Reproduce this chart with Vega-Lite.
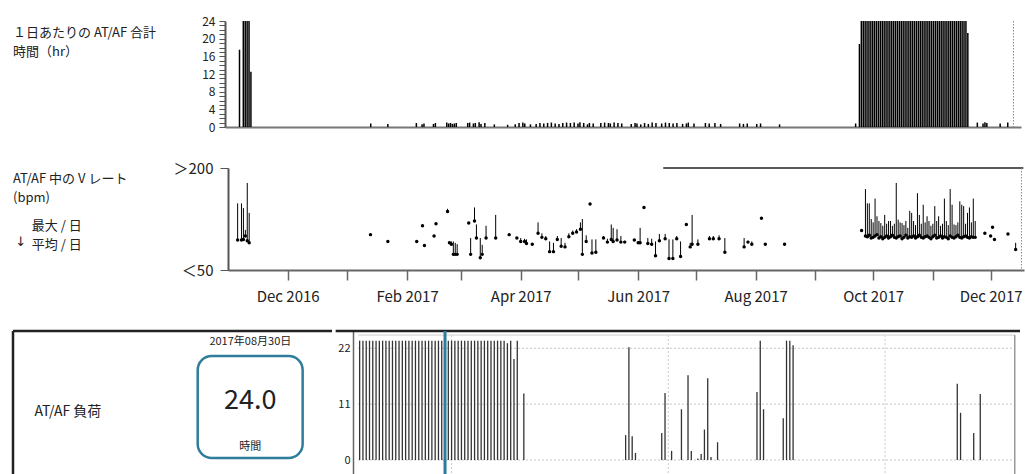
{
  "$schema": "https://vega.github.io/schema/vega-lite/v6.json",
  "background": "white",
  "padding": {"left": 11, "top": 15, "right": 0, "bottom": 0},
  "config": {
    "font": "Noto Sans CJK JP",
    "view": {"stroke": null},
    "axis": {"labelColor": "#222", "titleColor": "#222", "titleFontWeight": "normal", "grid": false, "labelFont": "Noto Sans CJK JP", "titleFont": "Noto Sans CJK JP"},
    "text": {"font": "Noto Sans CJK JP", "color": "#222"}
  },
  "datasets": {
    "days": [
      {"d":"2016-11-05","hr":17.5,"avg":94,"max":148},
      {"d":"2016-11-07","hr":24,"avg":94,"max":148},
      {"d":"2016-11-08","hr":24,"avg":95,"max":141},
      {"d":"2016-11-09","hr":24,"avg":100,"max":109},
      {"d":"2016-11-10","hr":24,"avg":93,"max":178},
      {"d":"2016-11-11","hr":12.5,"avg":90,"max":134},
      {"d":"2017-01-13","hr":0.8,"avg":102,"max":102},
      {"d":"2017-01-22","hr":0.7,"avg":92,"max":92},
      {"d":"2017-02-06","hr":0.9,"avg":92,"max":92},
      {"d":"2017-02-09","hr":0.6,"avg":115,"max":115},
      {"d":"2017-02-10","hr":0.8,"avg":86,"max":86},
      {"d":"2017-02-15","hr":0.7,"avg":100,"max":100},
      {"d":"2017-02-16","hr":0.9,"avg":118,"max":118},
      {"d":"2017-02-22","hr":1.0,"avg":136,"max":140},
      {"d":"2017-02-23","hr":0.8,"avg":90,"max":92},
      {"d":"2017-02-24","hr":0.9,"avg":88,"max":92},
      {"d":"2017-02-25","hr":0.7,"avg":73,"max":92},
      {"d":"2017-02-26","hr":0.8,"avg":73,"max":90},
      {"d":"2017-02-27","hr":0.9,"avg":73,"max":88},
      {"d":"2017-03-05","hr":0.9,"avg":119,"max":119},
      {"d":"2017-03-06","hr":1.0,"avg":73,"max":97},
      {"d":"2017-03-08","hr":0.8,"avg":122,"max":142},
      {"d":"2017-03-09","hr":0.9,"avg":97,"max":117},
      {"d":"2017-03-11","hr":1.1,"avg":68,"max":97},
      {"d":"2017-03-12","hr":0.7,"avg":73,"max":87},
      {"d":"2017-03-14","hr":0.9,"avg":97,"max":115},
      {"d":"2017-03-19","hr":0.6,"avg":97,"max":131},
      {"d":"2017-03-26","hr":0.5,"avg":102,"max":102},
      {"d":"2017-03-30","hr":0.6,"avg":97,"max":97},
      {"d":"2017-04-01","hr":0.9,"avg":92,"max":97},
      {"d":"2017-04-03","hr":1.0,"avg":92,"max":96},
      {"d":"2017-04-04","hr":0.8,"avg":89,"max":95},
      {"d":"2017-04-07","hr":0.6,"avg":88,"max":88},
      {"d":"2017-04-10","hr":0.7,"avg":104,"max":120},
      {"d":"2017-04-12","hr":0.9,"avg":98,"max":104},
      {"d":"2017-04-14","hr":0.8,"avg":96,"max":100},
      {"d":"2017-04-16","hr":0.9,"avg":77,"max":92},
      {"d":"2017-04-18","hr":1.0,"avg":77,"max":90},
      {"d":"2017-04-20","hr":0.8,"avg":95,"max":100},
      {"d":"2017-04-22","hr":0.7,"avg":85,"max":97},
      {"d":"2017-04-24","hr":0.9,"avg":84,"max":90},
      {"d":"2017-04-26","hr":1.0,"avg":99,"max":104},
      {"d":"2017-04-28","hr":0.9,"avg":104,"max":108},
      {"d":"2017-04-30","hr":1.0,"avg":106,"max":110},
      {"d":"2017-05-02","hr":0.8,"avg":110,"max":120},
      {"d":"2017-05-03","hr":1.1,"avg":73,"max":125},
      {"d":"2017-05-05","hr":0.9,"avg":92,"max":101},
      {"d":"2017-05-07","hr":0.6,"avg":147,"max":147},
      {"d":"2017-05-08","hr":0.9,"avg":75,"max":95},
      {"d":"2017-05-10","hr":0.8,"avg":76,"max":95},
      {"d":"2017-05-14","hr":0.9,"avg":97,"max":100},
      {"d":"2017-05-16","hr":1.0,"avg":91,"max":96},
      {"d":"2017-05-18","hr":0.9,"avg":95,"max":117},
      {"d":"2017-05-19","hr":0.8,"avg":92,"max":112},
      {"d":"2017-05-21","hr":1.0,"avg":94,"max":110},
      {"d":"2017-05-23","hr":0.9,"avg":91,"max":100},
      {"d":"2017-05-25","hr":0.8,"avg":91,"max":93},
      {"d":"2017-05-30","hr":0.7,"avg":94,"max":95},
      {"d":"2017-06-01","hr":0.9,"avg":90,"max":92},
      {"d":"2017-06-02","hr":0.8,"avg":90,"max":112},
      {"d":"2017-06-04","hr":0.6,"avg":142,"max":142},
      {"d":"2017-06-06","hr":0.9,"avg":89,"max":97},
      {"d":"2017-06-08","hr":0.7,"avg":88,"max":96},
      {"d":"2017-06-10","hr":1.0,"avg":71,"max":92},
      {"d":"2017-06-12","hr":0.9,"avg":93,"max":103},
      {"d":"2017-06-15","hr":0.8,"avg":96,"max":103},
      {"d":"2017-06-17","hr":1.0,"avg":67,"max":95},
      {"d":"2017-06-19","hr":0.9,"avg":67,"max":95},
      {"d":"2017-06-21","hr":0.8,"avg":96,"max":100},
      {"d":"2017-06-23","hr":0.9,"avg":70,"max":92},
      {"d":"2017-06-26","hr":0.7,"avg":117,"max":117},
      {"d":"2017-06-28","hr":0.8,"avg":84,"max":90},
      {"d":"2017-06-29","hr":1.0,"avg":88,"max":131},
      {"d":"2017-07-02","hr":0.8,"avg":88,"max":95},
      {"d":"2017-07-08","hr":0.9,"avg":96,"max":100},
      {"d":"2017-07-10","hr":0.8,"avg":96,"max":100},
      {"d":"2017-07-13","hr":0.9,"avg":96,"max":101},
      {"d":"2017-07-16","hr":0.7,"avg":76,"max":97},
      {"d":"2017-07-26","hr":0.8,"avg":84,"max":97},
      {"d":"2017-07-28","hr":0.7,"avg":91,"max":93},
      {"d":"2017-07-30","hr":0.8,"avg":88,"max":92},
      {"d":"2017-08-04","hr":0.7,"avg":126,"max":126},
      {"d":"2017-08-06","hr":0.8,"avg":88,"max":88},
      {"d":"2017-08-16","hr":0.6,"avg":88,"max":88},
      {"d":"2017-09-25","hr":0.8,"avg":108,"max":108},
      {"d":"2017-09-27","hr":18.8,"avg":100,"max":169},
      {"d":"2017-09-28","hr":24,"avg":99,"max":148},
      {"d":"2017-09-29","hr":24,"avg":101,"max":148},
      {"d":"2017-09-30","hr":24,"avg":97,"max":125},
      {"d":"2017-10-01","hr":24,"avg":98,"max":120},
      {"d":"2017-10-02","hr":24,"avg":100,"max":155},
      {"d":"2017-10-03","hr":24,"avg":102,"max":129},
      {"d":"2017-10-04","hr":24,"avg":97,"max":122},
      {"d":"2017-10-05","hr":24,"avg":99,"max":119},
      {"d":"2017-10-06","hr":24,"avg":96,"max":115},
      {"d":"2017-10-07","hr":24,"avg":98,"max":131},
      {"d":"2017-10-08","hr":24,"avg":100,"max":118},
      {"d":"2017-10-09","hr":24,"avg":97,"max":122},
      {"d":"2017-10-10","hr":24,"avg":99,"max":122},
      {"d":"2017-10-11","hr":24,"avg":101,"max":115},
      {"d":"2017-10-12","hr":24,"avg":98,"max":118},
      {"d":"2017-10-13","hr":24,"avg":97,"max":178},
      {"d":"2017-10-14","hr":24,"avg":99,"max":124},
      {"d":"2017-10-15","hr":24,"avg":100,"max":120},
      {"d":"2017-10-16","hr":24,"avg":96,"max":119},
      {"d":"2017-10-17","hr":24,"avg":98,"max":116},
      {"d":"2017-10-18","hr":24,"avg":101,"max":122},
      {"d":"2017-10-19","hr":24,"avg":97,"max":112},
      {"d":"2017-10-20","hr":24,"avg":99,"max":137},
      {"d":"2017-10-21","hr":24,"avg":98,"max":134},
      {"d":"2017-10-22","hr":24,"avg":100,"max":122},
      {"d":"2017-10-23","hr":24,"avg":97,"max":116},
      {"d":"2017-10-24","hr":24,"avg":99,"max":163},
      {"d":"2017-10-25","hr":24,"avg":101,"max":131},
      {"d":"2017-10-26","hr":24,"avg":98,"max":118},
      {"d":"2017-10-27","hr":24,"avg":97,"max":146},
      {"d":"2017-10-28","hr":24,"avg":99,"max":120},
      {"d":"2017-10-29","hr":24,"avg":100,"max":129},
      {"d":"2017-10-30","hr":24,"avg":98,"max":122},
      {"d":"2017-10-31","hr":24,"avg":96,"max":115},
      {"d":"2017-11-01","hr":24,"avg":99,"max":118},
      {"d":"2017-11-02","hr":24,"avg":101,"max":144},
      {"d":"2017-11-03","hr":24,"avg":97,"max":122},
      {"d":"2017-11-04","hr":24,"avg":98,"max":129},
      {"d":"2017-11-05","hr":24,"avg":100,"max":115},
      {"d":"2017-11-06","hr":24,"avg":97,"max":118},
      {"d":"2017-11-07","hr":24,"avg":99,"max":155},
      {"d":"2017-11-08","hr":24,"avg":98,"max":122},
      {"d":"2017-11-09","hr":24,"avg":96,"max":116},
      {"d":"2017-11-10","hr":24,"avg":100,"max":169},
      {"d":"2017-11-11","hr":24,"avg":98,"max":146},
      {"d":"2017-11-12","hr":24,"avg":97,"max":117},
      {"d":"2017-11-13","hr":24,"avg":99,"max":116},
      {"d":"2017-11-14","hr":24,"avg":101,"max":120},
      {"d":"2017-11-15","hr":24,"avg":98,"max":151},
      {"d":"2017-11-16","hr":24,"avg":97,"max":146},
      {"d":"2017-11-17","hr":24,"avg":99,"max":144},
      {"d":"2017-11-18","hr":24,"avg":100,"max":118},
      {"d":"2017-11-19","hr":24,"avg":98,"max":134},
      {"d":"2017-11-20","hr":24,"avg":97,"max":142},
      {"d":"2017-11-21","hr":24,"avg":99,"max":120},
      {"d":"2017-11-22","hr":24,"avg":98,"max":155},
      {"d":"2017-11-23","hr":21.3,"avg":98,"max":122},
      {"d":"2017-11-28","hr":1.0,"avg":104,"max":104},
      {"d":"2017-12-01","hr":0.8,"avg":100,"max":100},
      {"d":"2017-12-02","hr":1.1,"avg":113,"max":113},
      {"d":"2017-12-03","hr":0.9,"avg":95,"max":95},
      {"d":"2017-12-10","hr":0.8,"avg":103,"max":103},
      {"d":"2017-12-14","hr":1.0,"avg":80,"max":90}
    ],
    "marker": [{"d": "2017-12-17"}],
    "topline": [{"s": "2017-06-14", "e": "2017-12-18"}],
    "hlabel": [{"l1": "１日あたりの AT/AF 合計", "l2": "時間（hr）"}],
    "vlegend": [{"l1": "AT/AF 中の V レート", "l2": "(bpm)", "maxLabel": "最大 / 日", "avgLabel": "平均 / 日", "arrow": "↓"}],
    "burden": [
      {"i":0,"h":23.5},{"i":1,"h":23.5},{"i":2,"h":23.5},{"i":3,"h":23.5},{"i":4,"h":23.5},
      {"i":5,"h":23.5},{"i":6,"h":23.5},{"i":7,"h":23.5},{"i":8,"h":23.5},{"i":9,"h":23.5},
      {"i":10,"h":23.5},{"i":11,"h":23.5},{"i":12,"h":23.5},{"i":13,"h":23.5},{"i":14,"h":23.5},
      {"i":15,"h":23.5},{"i":16,"h":23.5},{"i":17,"h":23.5},{"i":18,"h":23.5},{"i":19,"h":23.5},
      {"i":20,"h":23.5},{"i":21,"h":23.5},{"i":22,"h":23.5},{"i":23,"h":23.5},{"i":24,"h":23.5},
      {"i":25,"h":23.5},{"i":26,"h":23.5},{"i":27,"h":23.5},{"i":28,"h":23.5},{"i":29,"h":23.5},
      {"i":30,"h":23.5},{"i":31,"h":23.5},{"i":32,"h":23.5},{"i":33,"h":23.5},{"i":34,"h":23.5},
      {"i":35,"h":23.5},{"i":36,"h":23.5},{"i":37,"h":23.5},{"i":38,"h":23.5},{"i":39,"h":23.5},
      {"i":40,"h":23.5},{"i":41,"h":23.5},{"i":42,"h":23.5},{"i":43,"h":23.5},{"i":44,"h":23.5},
      {"i":45,"h":23.0},{"i":46,"h":23.5},{"i":47,"h":19.9},{"i":48,"h":23.5},{"i":50,"h":13.1},
      {"i":81,"h":4.9},{"i":82,"h":22.2},{"i":83,"h":4.7},{"i":84,"h":1.4},
      {"i":92,"h":5.3},{"i":93,"h":13.2},{"i":95,"h":1.8},{"i":98,"h":10},
      {"i":100,"h":16.7},{"i":101,"h":1.8},{"i":103,"h":0.3},{"i":104,"h":1.2},
      {"i":105,"h":6},{"i":106,"h":16.1},{"i":107,"h":0.6},{"i":109,"h":3.5},
      {"i":121,"h":13.4},{"i":122,"h":23.5},{"i":123,"h":10},
      {"i":129,"h":8.2},{"i":130,"h":23.5},{"i":131,"h":23.5},{"i":132,"h":22.6},
      {"i":182,"h":15},{"i":183,"h":9.3},{"i":187,"h":5.3},{"i":189,"h":13}
    ],
    "ygrid": [{"g": 0}, {"g": 11}, {"g": 22}],
    "xgrid": [{"g": 28}, {"g": 94}, {"g": 160}],
    "sel": [{"i": 26}],
    "info": [{"label": "AT/AF 負荷", "date": "2017年08月30日", "value": "24.0", "unit": "時間"}]
  },
  "concat": [
    {
      "vconcat": [
        {
          "hconcat": [
            {
              "width": 172,
              "height": 106,
              "data": {"name": "hlabel"},
              "layer": [
                {
                  "mark": {"type": "text", "fontSize": 13, "align": "left", "baseline": "middle"},
                  "encoding": {
                    "x": {"datum": 0, "type": "quantitative", "scale": {"domain": [0, 1]}, "axis": null},
                    "y": {"datum": 0.887, "type": "quantitative", "scale": {"domain": [0, 1]}, "axis": null},
                    "text": {"field": "l1"}
                  }
                },
                {
                  "mark": {"type": "text", "fontSize": 13, "align": "left", "baseline": "middle"},
                  "encoding": {
                    "x": {"datum": 0},
                    "y": {"datum": 0.705},
                    "text": {"field": "l2"}
                  }
                }
              ]
            },
            {
              "width": 796,
              "height": 106,
              "layer": [
                {
                  "data": {"name": "days"},
                  "mark": {"type": "bar", "width": 1.5, "color": "#000"},
                  "encoding": {
                    "x": {
                      "field": "d", "type": "temporal", "title": null,
                      "scale": {"type": "utc", "domain": [{"year": 2016, "month": 10, "date": 31, "utc": true}, {"year": 2017, "month": 12, "date": 18, "hours": 8, "utc": true}]},
                      "axis": {"labels": false, "ticks": false, "domain": true, "domainColor": "#777", "domainWidth": 2, "title": null, "grid": false}
                    },
                    "y": {
                      "field": "hr", "type": "quantitative",
                      "scale": {"domain": [0, 24], "nice": false},
                      "axis": {
                        "values": [0,1,2,3,4,5,6,7,8,9,10,11,12,13,14,15,16,17,18,19,20,21,22,23,24],
                        "labelExpr": "datum.value % 4 === 0 ? datum.label : ''",
                        "labelOverlap": false, "minExtent": 40, "maxExtent": 40,
                        "tickSize": 6, "tickColor": "#555", "domainColor": "#555", "domainWidth": 2,
                        "labelFontSize": 12, "labelPadding": 4, "title": null
                      }
                    }
                  }
                },
                {
                  "data": {"name": "marker"},
                  "mark": {"type": "rule", "color": "#888", "strokeDash": [1.5, 1.5]},
                  "encoding": {"x": {"field": "d", "type": "temporal", "title": null}}
                }
              ]
            }
          ],
          "spacing": 0
        },
        {
          "hconcat": [
            {
              "width": 155,
              "height": 102,
              "data": {"name": "vlegend"},
              "layer": [
                {
                  "mark": {"type": "text", "fontSize": 13, "align": "left", "baseline": "middle"},
                  "encoding": {
                    "x": {"datum": 0, "type": "quantitative", "scale": {"domain": [0, 1]}, "axis": null},
                    "y": {"datum": 0.892, "type": "quantitative", "scale": {"domain": [0, 1]}, "axis": null},
                    "text": {"field": "l1"}
                  }
                },
                {
                  "mark": {"type": "text", "fontSize": 13, "align": "left", "baseline": "middle"},
                  "encoding": {"x": {"datum": 0}, "y": {"datum": 0.706}, "text": {"field": "l2"}}
                },
                {
                  "mark": {"type": "text", "fontSize": 13, "align": "left", "baseline": "middle"},
                  "encoding": {"x": {"datum": 0.121}, "y": {"datum": 0.431}, "text": {"field": "maxLabel"}}
                },
                {
                  "mark": {"type": "text", "fontSize": 13, "align": "left", "baseline": "middle"},
                  "encoding": {"x": {"datum": 0.121}, "y": {"datum": 0.245}, "text": {"field": "avgLabel"}}
                },
                {
                  "mark": {"type": "text", "fontSize": 13, "align": "center", "baseline": "middle", "font": "DejaVu Sans", "color": "#222"},
                  "encoding": {"x": {"datum": 0.05}, "y": {"datum": 0.27}, "text": {"field": "arrow"}}
                }
              ]
            },
            {
              "width": 796,
              "height": 102,
              "layer": [
                {
                  "data": {"name": "days"},
                  "mark": {"type": "rule", "color": "#000", "strokeWidth": 1},
                  "encoding": {
                    "x": {
                      "field": "d", "type": "temporal", "title": null,
                      "scale": {"type": "utc", "domain": [{"year": 2016, "month": 10, "date": 31, "utc": true}, {"year": 2017, "month": 12, "date": 18, "hours": 8, "utc": true}]},
                      "axis": {
                        "values": [
                          {"year": 2016, "month": 12, "date": 1, "utc": true},
                          {"year": 2017, "month": 1, "date": 1, "utc": true},
                          {"year": 2017, "month": 2, "date": 1, "utc": true},
                          {"year": 2017, "month": 3, "date": 1, "utc": true},
                          {"year": 2017, "month": 4, "date": 1, "utc": true},
                          {"year": 2017, "month": 5, "date": 1, "utc": true},
                          {"year": 2017, "month": 6, "date": 1, "utc": true},
                          {"year": 2017, "month": 7, "date": 1, "utc": true},
                          {"year": 2017, "month": 8, "date": 1, "utc": true},
                          {"year": 2017, "month": 9, "date": 1, "utc": true},
                          {"year": 2017, "month": 10, "date": 1, "utc": true},
                          {"year": 2017, "month": 11, "date": 1, "utc": true},
                          {"year": 2017, "month": 12, "date": 1, "utc": true}
                        ],
                        "labelExpr": "utcmonth(datum.value) % 2 === 1 ? utcFormat(datum.value, '%b %Y') : ''",
                        "labelOverlap": false, "labelFlush": false,
                        "tickSize": 10, "tickColor": "#666", "tickWidth": 1.5,
                        "domainColor": "#666", "domainWidth": 2,
                        "labelFontSize": 15, "labelPadding": 9, "title": null, "grid": false
                      }
                    },
                    "y": {
                      "field": "avg", "type": "quantitative",
                      "scale": {"domain": [50, 200], "nice": false, "zero": false},
                      "axis": {
                        "values": [50, 100, 150, 200],
                        "labelExpr": "datum.value === 50 ? '＜50' : datum.value === 200 ? '＞200' : datum.label",
                        "labelOverlap": false, "minExtent": 60, "maxExtent": 60,
                        "tickSize": 8, "tickColor": "#555", "domainColor": "#555", "domainWidth": 2,
                        "labelFontSize": 15, "labelPadding": 7, "title": null
                      }
                    },
                    "y2": {"field": "max"}
                  }
                },
                {
                  "data": {"name": "days"},
                  "mark": {"type": "point", "filled": true, "size": 12, "color": "#000", "opacity": 1},
                  "encoding": {
                    "x": {"field": "d", "type": "temporal", "title": null},
                    "y": {"field": "avg", "type": "quantitative"}
                  }
                },
                {
                  "data": {"name": "topline"},
                  "mark": {"type": "rule", "color": "#222", "strokeWidth": 1.5},
                  "encoding": {
                    "x": {"field": "s", "type": "temporal", "title": null},
                    "x2": {"field": "e"},
                    "y": {"datum": 200}
                  }
                },
                {
                  "data": {"name": "marker"},
                  "mark": {"type": "rule", "color": "#888", "strokeDash": [1.5, 1.5]},
                  "encoding": {"x": {"field": "d", "type": "temporal", "title": null}}
                }
              ]
            }
          ],
          "spacing": 0
        }
      ],
      "spacing": 28
    },
    {
      "hconcat": [
        {
          "width": 319,
          "height": 150,
          "data": {"name": "info"},
          "layer": [
            {
              "mark": {"type": "rule", "color": "#222", "strokeWidth": 2.5},
              "encoding": {
                "x": {"datum": 0, "type": "quantitative", "scale": {"domain": [0, 1]}, "axis": null}
              }
            },
            {
              "mark": {"type": "rule", "color": "#222", "strokeWidth": 2.5},
              "encoding": {
                "x": {"datum": 0},
                "x2": {"datum": 1},
                "y": {"datum": 1, "type": "quantitative", "scale": {"domain": [0, 1]}, "axis": null}
              }
            },
            {
              "mark": {"type": "rect", "fill": "transparent", "stroke": "#2f7d9c", "strokeWidth": 2.5, "cornerRadius": 14},
              "encoding": {
                "x": {"datum": 0.579},
                "x2": {"datum": 0.908},
                "y": {"datum": 0.833},
                "y2": {"datum": 0.153}
              }
            },
            {
              "mark": {"type": "text", "fontSize": 14, "align": "center", "baseline": "middle"},
              "encoding": {"x": {"datum": 0.172}, "y": {"datum": 0.46}, "text": {"field": "label"}}
            },
            {
              "mark": {"type": "text", "fontSize": 11, "align": "center", "baseline": "middle"},
              "encoding": {"x": {"datum": 0.744}, "y": {"datum": 0.929}, "text": {"field": "date"}}
            },
            {
              "mark": {"type": "text", "fontSize": 27, "align": "center", "baseline": "middle"},
              "encoding": {"x": {"datum": 0.744}, "y": {"datum": 0.533}, "text": {"field": "value"}}
            },
            {
              "mark": {"type": "text", "fontSize": 11, "align": "center", "baseline": "middle"},
              "encoding": {"x": {"datum": 0.744}, "y": {"datum": 0.229}, "text": {"field": "unit"}}
            }
          ]
        },
        {
          "width": 672,
          "height": 150,
          "layer": [
            {
              "data": {"name": "ygrid"},
              "mark": {"type": "rule", "color": "#c8c8c8", "strokeDash": [2, 2]},
              "encoding": {
                "x": {"datum": -0.5, "type": "quantitative", "scale": {"domain": [-0.5, 201.1], "nice": false, "zero": false}, "axis": null},
                "x2": {"datum": 199.5},
                "y": {"field": "g", "type": "quantitative", "scale": {"domain": [-4.13, 25.4], "nice": false, "zero": false}}
              }
            },
            {
              "data": {"name": "xgrid"},
              "mark": {"type": "rule", "color": "#c8c8c8", "strokeDash": [2, 2]},
              "encoding": {
                "x": {"field": "g", "type": "quantitative"},
                "y": {"datum": 24.6},
                "y2": {"datum": -4.13}
              }
            },
            {
              "data": {"name": "sel"},
              "mark": {"type": "rule", "color": "#cfcfcf", "strokeWidth": 1},
              "encoding": {"x": {"datum": -0.5}, "x2": {"datum": 199.5}, "y": {"datum": 24.6}}
            },
            {
              "data": {"name": "sel"},
              "mark": {"type": "rule", "color": "#999", "strokeWidth": 1.5},
              "encoding": {"x": {"datum": 199.5}, "y": {"datum": 24.6}, "y2": {"datum": -4.13}}
            },
            {
              "data": {"name": "sel"},
              "mark": {"type": "rule", "color": "#222", "strokeWidth": 2.5},
              "encoding": {"x": {"datum": -7.3}, "x2": {"datum": 201.1}, "y": {"datum": 25.4}}
            },
            {
              "data": {"name": "burden"},
              "mark": {"type": "bar", "width": 1.3, "color": "#333"},
              "encoding": {
                "x": {"field": "i", "type": "quantitative"},
                "y": {
                  "field": "h", "type": "quantitative",
                  "axis": {"values": [0, 11, 22], "labelOverlap": false, "ticks": false, "domain": true, "domainColor": "#666", "domainWidth": 1.5, "labelFontSize": 11, "labelPadding": 3, "minExtent": 16, "maxExtent": 16, "title": null, "grid": false}
                }
              }
            },
            {
              "data": {"name": "sel"},
              "mark": {"type": "rule", "color": "#2b7c9e", "strokeWidth": 3},
              "encoding": {"x": {"field": "i", "type": "quantitative"}}
            }
          ]
        }
      ],
      "spacing": 0
    }
  ],
  "columns": 1,
  "spacing": 25
}
